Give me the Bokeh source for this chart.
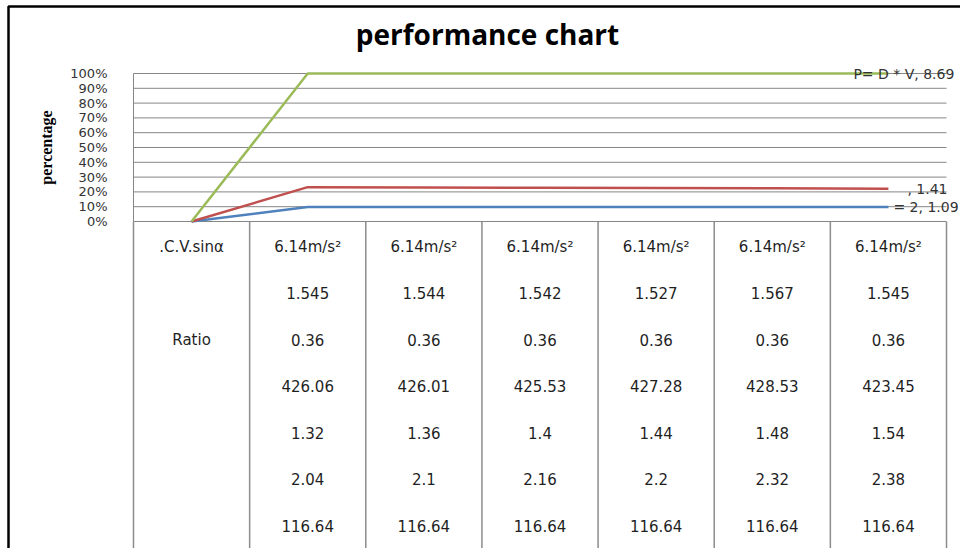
import math
from bokeh.plotting import figure
from bokeh.models import (Range1d, FixedTicker, NumeralTickFormatter, ColumnDataSource,
                          LabelSet, Label, BoxAnnotation)
from bokeh.core.properties import value
from bokeh.embed import file_html
from bokeh.resources import INLINE

# ---------------- data ----------------
n_cols = 7
line_green = [0.0, 1.0, 1.0, 1.0, 1.0, 1.0, 1.0]
line_red = [0.0, 0.232, 0.230, 0.228, 0.226, 0.224, 0.222]
line_blue = [0.0, 0.098, 0.098, 0.098, 0.098, 0.098, 0.098]
end_labels = ["P= D * V, 8.69", ", 1.41", "= 2, 1.09"]

row_labels = [".C.V.sinα", "", "Ratio", "", "", "", ""]
row_accel = ["6.14m/s²"] * 6
row_2 = ["1.545", "1.544", "1.542", "1.527", "1.567", "1.545"]
row_3 = ["0.36", "0.36", "0.36", "0.36", "0.36", "0.36"]
row_4 = ["426.06", "426.01", "425.53", "427.28", "428.53", "423.45"]
row_5 = ["1.32", "1.36", "1.4", "1.44", "1.48", "1.54"]
row_6 = ["2.04", "2.1", "2.16", "2.2", "2.32", "2.38"]
row_7 = ["116.64"] * 6
table_rows = [row_accel, row_2, row_3, row_4, row_5, row_6, row_7]

y_ticks = [0.0, 0.1, 0.2, 0.3, 0.4, 0.5, 0.6, 0.7, 0.8, 0.9, 1.0]

# ---------------- geometry / style ----------------
W, H = 960, 548
PLOT_LEFT, PLOT_RIGHT = 133, 946      # pixel extent of the category axis
ZERO_Y, PX_PER_UNIT = 221, 148.0      # pixel row of 0 %, pixels per 100 %
col_w = (PLOT_RIGHT - PLOT_LEFT) / n_cols
x_lo = -PLOT_LEFT / col_w
x_hi = (W - PLOT_LEFT) / col_w
y_hi = ZERO_Y / PX_PER_UNIT
y_lo = -(H - ZERO_Y) / PX_PER_UNIT
row_y = [-(25 + 46.5 * k) / PX_PER_UNIT for k in range(len(table_rows))]

GREEN = "#9BBB59"
RED = "#C0504D"
BLUE = "#4F81BD"
GRID = "#868686"
TXT = "#1f1f1f"

p = figure(width=W, height=H,
           x_range=Range1d(x_lo, x_hi), y_range=Range1d(y_lo, y_hi),
           output_backend="svg", toolbar_location=None)
p.min_border = 0
p.min_border_left = 0
p.min_border_right = 0
p.min_border_top = 0
p.min_border_bottom = 0
p.title.visible = False
p.outline_line_color = None
p.background_fill_color = "white"
p.border_fill_color = "white"
p.xaxis.visible = False
p.xgrid.visible = False
p.ygrid.visible = False

ax = p.yaxis[0]
ax.fixed_location = 0
ax.ticker = FixedTicker(ticks=y_ticks)
ax.formatter = NumeralTickFormatter(format="0%")
ax.bounds = (0, 1)
ax.major_tick_line_color = None
ax.minor_tick_line_color = None
ax.axis_line_color = GRID
ax.major_label_standoff = 20
ax.major_label_text_font = "DejaVu Sans"
ax.major_label_text_font_size = "13px"
ax.major_label_text_color = "#333333"

# horizontal gridlines (plot area only)
p.segment(x0=[0] * len(y_ticks), y0=y_ticks, x1=[n_cols] * len(y_ticks), y1=y_ticks,
          line_color=GRID, line_width=1)

# table cell separators
bounds_x = list(range(n_cols + 1))
p.segment(x0=bounds_x, y0=[y_lo] * len(bounds_x), x1=bounds_x, y1=[0] * len(bounds_x),
          line_color="#8c8c8c", line_width=1.5)

# lines
xs = [i + 0.5 for i in range(n_cols)]
for ys, col in [(line_blue, BLUE), (line_red, RED), (line_green, GREEN)]:
    p.line(xs, ys, line_color=col, line_width=2.5)

# end labels
lab_src = ColumnDataSource(dict(
    x=[xs[-1]] * 3,
    y=[line_green[-1], line_red[-1], line_blue[-1]],
    text=end_labels,
    dx=[-35, 19, 5],
))
p.add_layout(LabelSet(x="x", y="y", text="text", source=lab_src, x_offset="dx",
                      text_align="left", text_baseline="middle",
                      text_font=value("DejaVu Sans"), text_font_size="14px",
                      text_color="#333333"))

# table text
tx, ty, tt = [], [], []
for k, lab in enumerate(row_labels):
    if lab:
        tx.append(0.5)
        ty.append(row_y[k])
        tt.append(lab)
for k, row in enumerate(table_rows):
    for i, v in enumerate(row):
        tx.append(i + 1.5)
        ty.append(row_y[k])
        tt.append(v)
p.text(x=tx, y=ty, text=tt, text_align="center", text_baseline="middle",
       text_font=value("DejaVu Sans"), text_font_size="15px", text_color=TXT)

# title
p.add_layout(Label(x=487, y=H - 33, x_units="screen", y_units="screen",
                   text="performance chart", text_align="center", text_baseline="middle",
                   text_font="Open Sans", text_font_style="bold", text_font_size="28px",
                   text_color="black"))

# y-axis title
p.add_layout(Label(x=46, y=H - 147, x_units="screen", y_units="screen",
                   text="percentage", angle=math.pi / 2,
                   text_align="center", text_baseline="middle",
                   text_font="Liberation Serif", text_font_style="bold", text_font_size="16px",
                   text_color="black"))

# outer chart border (right and bottom edges lie outside the picture)
p.add_layout(BoxAnnotation(left=8, right=W + 20, top=H - 6, bottom=-20,
                           left_units="screen", right_units="screen",
                           top_units="screen", bottom_units="screen",
                           fill_color=None, fill_alpha=0,
                           line_color="black", line_alpha=1.0, line_width=2.5))

open("out.html", "w").write(file_html(p, INLINE))
